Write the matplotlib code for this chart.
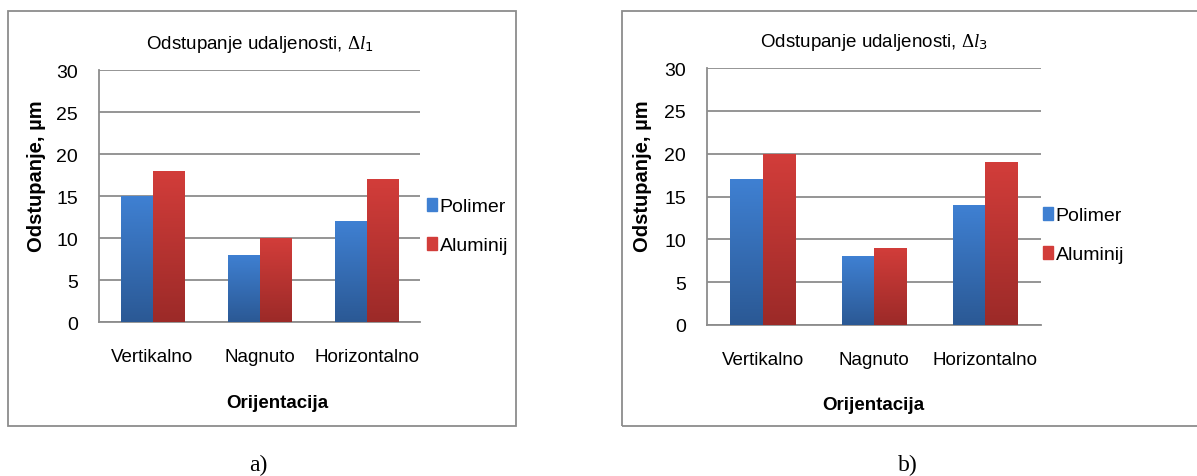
import numpy as np
import matplotlib
matplotlib.use('Agg')
import matplotlib.pyplot as plt
from matplotlib.patches import Rectangle, Patch
from matplotlib.colors import to_rgb

plt.rcParams['font.family'] = 'Liberation Sans'
plt.rcParams['mathtext.fontset'] = 'custom'
plt.rcParams['mathtext.rm'] = 'Liberation Serif'
plt.rcParams['mathtext.it'] = 'Liberation Serif:italic'

# podaci
kategorije = ['Vertikalno', 'Nagnuto', 'Horizontalno']
polimer_a = [15, 8, 12]
aluminij_a = [18, 10, 17]
polimer_b = [17, 8, 14]
aluminij_b = [20, 9, 19]
naslov_a = r'Odstupanje udaljenosti, $\Delta l_{\mathsf{1}}$'
naslov_b = r'Odstupanje udaljenosti, $\Delta l_{\mathsf{3}}$'

plava = ('#3f80d2', '#2b5995')
crvena = ('#d23d3a', '#9c2a28')
siva = '#8c8c8c'

W, H = 1197, 477
fig = plt.figure(figsize=(W / 100, H / 100), dpi=100)


def px(x0, y0, x1, y1):
    # pretvaranje piksela u koordinate figure
    return [x0 / W, 1 - y1 / H, (x1 - x0) / W, (y1 - y0) / H]


def gradijent(ax, bar, boje):
    x0, y0 = bar.get_x(), bar.get_y()
    w, h = bar.get_width(), bar.get_height()
    c1, c2 = np.array(to_rgb(boje[0])), np.array(to_rgb(boje[1]))
    t = np.linspace(0, 1, 64)[:, None]
    img = (c1 * (1 - t) + c2 * t)[:, None, :]
    im = ax.imshow(img, extent=(x0, x0 + w, y0, y0 + h), aspect='auto',
                   origin='upper', zorder=3)
    im.set_clip_path(bar)


def graf(rect, polimer, aluminij, naslov, okvir, ylab_xy, xlab_xy, leg_xy):
    fig.patches.append(Rectangle((okvir[0] / W, 1 - okvir[3] / H),
                                 (okvir[2] - okvir[0]) / W,
                                 (okvir[3] - okvir[1]) / H,
                                 transform=fig.transFigure, fill=False,
                                 edgecolor=siva, lw=1.3))
    ax = fig.add_axes(px(*rect))
    x = np.arange(len(kategorije))
    w = 0.29
    b1 = ax.bar(x - w / 2, polimer, w, color=plava[0], zorder=2, label='Polimer')
    b2 = ax.bar(x + w / 2, aluminij, w, color=crvena[0], zorder=2, label='Aluminij')
    for b in b1:
        gradijent(ax, b, plava)
    for b in b2:
        gradijent(ax, b, crvena)
    ax.set_xlim(-0.5, 2.5)
    ax.set_ylim(0, 30)
    ax.set_yticks(range(0, 31, 5))
    ax.set_xticks(x)
    ax.set_xticklabels(kategorije)
    ax.yaxis.grid(True, color=siva, lw=1.3)
    ax.set_axisbelow(True)
    for s in ['top', 'right']:
        ax.spines[s].set_visible(False)
    for s in ['left', 'bottom']:
        ax.spines[s].set_color(siva)
        ax.spines[s].set_linewidth(1.3)
    ax.tick_params(axis='y', length=0, pad=15, labelsize=14)
    ax.tick_params(axis='x', length=0, pad=19, labelsize=13.5)
    ax.set_title(naslov, fontsize=13.5, pad=16)
    fig.text(ylab_xy[0] / W, 1 - ylab_xy[1] / H, 'Odstupanje, µm', rotation=90,
             ha='center', va='center', fontsize=14.5, fontweight='bold')
    fig.text(xlab_xy[0] / W, 1 - xlab_xy[1] / H, 'Orijentacija',
             ha='center', va='center', fontsize=13.5, fontweight='bold')
    ruke = [Patch(color=plava[0]), Patch(color=crvena[0])]
    fig.legend(ruke, ['Polimer', 'Aluminij'], loc='center left',
               bbox_to_anchor=(leg_xy[0] / W, 1 - leg_xy[1] / H),
               frameon=False, fontsize=14, handlelength=0.5,
               handleheight=0.7, handletextpad=0.15, labelspacing=1.1,
               borderpad=0, borderaxespad=0)
    return ax


graf((99, 71, 420, 323), polimer_a, aluminij_a, naslov_a,
     (8, 12, 516, 427), (37, 176), (277, 404), (427, 227))
graf((707, 69, 1041, 326), polimer_b, aluminij_b, naslov_b,
     (622, 12, 1210, 427), (643, 176), (873, 406), (1043, 236))

fig.text(258 / W, 1 - 465 / H, 'a)', ha='center', va='center',
         fontsize=17, family='Liberation Serif')
fig.text(908 / W, 1 - 465 / H, 'b)', ha='center', va='center',
         fontsize=17, family='Liberation Serif')

fig.savefig('out.png', dpi=100)
